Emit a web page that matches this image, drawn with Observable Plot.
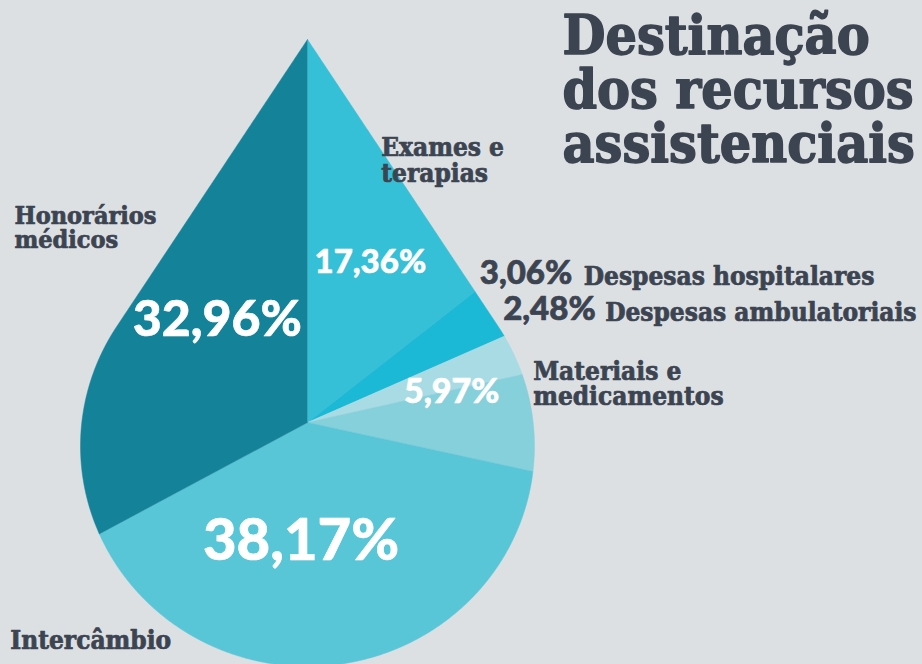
<!DOCTYPE html>
<html><head><meta charset="utf-8">
<script src="https://cdn.jsdelivr.net/npm/d3@7"></script>
<script src="https://cdn.jsdelivr.net/npm/@observablehq/plot@0.6"></script>
<style>
html,body{margin:0;padding:0;background:#dde0e3;}
#chart{width:922px;height:664px;overflow:hidden;}
</style></head><body><div id="chart"></div>
<script>
// ---- data ----
const categories = ["Exames e terapias","Despesas hospitalares","Despesas ambulatoriais","Materiais e medicamentos","Intercâmbio","Honorários médicos"];
const shares = [17.36, 3.06, 2.48, 5.97, 38.17, 32.96];
const shareLabels = ["17,36%","3,06%","2,48%","5,97%","38,17%","32,96%"];
const labelLines = ["Exames e\nterapias","Despesas hospitalares","Despesas ambulatoriais","Materiais e\nmedicamentos","Intercâmbio","Honorários\nmédicos"];
const titleLines = ["Destinação","dos recursos","assistenciais"];
const sliceColors = ["#35c0d7","#1bb9d5","#a8dbe4","#86d0dc","#59c6d8","#14839a"];

// ---- drop geometry (layout constants) ----
const W = 922, H = 664;
const cx = 307, cy = 422;            // pie centre inside the frame
const R = 227, RB = 220.5, ELLY = -23.5, TIP = 383;
const cross = (a, b) => a[0]*b[1] - a[1]*b[0];
const ellipse = d3.range(720).map(i => { const p = 2*Math.PI*i/720; return [R*Math.cos(p), ELLY + RB*Math.sin(p)]; });
const hull = d3.polygonHull([...ellipse, [0, TIP]]);
function radiusAt(theta) {
  const d = [Math.sin(theta), Math.cos(theta)];
  let best = Infinity;
  for (let i = 0; i < hull.length; i++) {
    const p = hull[i], q = hull[(i+1) % hull.length];
    const e = [q[0]-p[0], q[1]-p[1]];
    const den = cross(d, e);
    if (Math.abs(den) < 1e-12) continue;
    const t = cross(p, e)/den, u = cross(p, d)/den;
    if (u >= -1e-9 && u <= 1 + 1e-9 && t > 0 && t < best) best = t;
  }
  return best;
}
// area-proportional slicing of the drop
const NA = 3600, dA = 2*Math.PI/NA;
const cumArea = [0];
for (let i = 0; i < NA; i++) { const r = radiusAt((i+0.5)*dA); cumArea.push(cumArea[i] + 0.5*r*r*dA); }
const totalArea = cumArea[NA];
function angleAt(f) {
  if (f <= 0) return 0; if (f >= 1) return 2*Math.PI;
  const target = f*totalArea;
  const i = Math.max(1, d3.bisectLeft(cumArea, target));
  const t = (target - cumArea[i-1])/(cumArea[i] - cumArea[i-1]);
  return (i - 1 + t)*dA;
}
const total = d3.sum(shares);
let acc = 0;
const rows = [];
const slices = categories.map((cat, i) => {
  const a0 = angleAt(acc/total); acc += shares[i]; const a1 = angleAt(acc/total);
  const n = Math.max(2, Math.ceil((a1 - a0)/(0.2*Math.PI/180)));
  const poly = [[0, 0]];
  for (let j = 0; j <= n; j++) {
    const th = a0 + (a1 - a0)*j/n, r = radiusAt(th);
    poly.push([r*Math.sin(th), r*Math.cos(th)]);
  }
  poly.forEach(p => rows.push({cat, x: p[0], y: p[1]}));
  const c = d3.polygonCentroid(poly);
  const mid = (a0 + a1)/2, rm = radiusAt(mid);
  return {cat, pct: shareLabels[i], label: labelLines[i], cx: c[0], cy: c[1], ex: rm*Math.sin(mid), ey: rm*Math.cos(mid)};
});

const slab = "'DejaVu Serif Condensed', 'DejaVu Serif', serif";
const sans = "Lato, 'Open Sans', sans-serif";
const ink = "#3c4451";
const S = i => [slices[i]];

const inner = (i, size, dx, dy) => Plot.text(S(i), {x: "cx", y: "cy", text: "pct", fill: "white", stroke: "white", strokeWidth: 0.6, fontFamily: sans, fontWeight: 900, fontSize: size, dx, dy});
const outer = (i, field, font, weight, size, dx, dy) => Plot.text(S(i), {x: "ex", y: "ey", text: field, fill: ink, stroke: ink, strokeWidth: 0.7, fontFamily: font, fontWeight: weight, fontSize: size, textAnchor: "start", lineAnchor: "top", lineHeight: 0.97, dx, dy});

const chart = Plot.plot({
  width: W, height: H, margin: 0,
  x: {domain: [-cx, W - cx], axis: null},
  y: {domain: [cy - H, cy], axis: null},
  color: {domain: categories, range: sliceColors},
  style: {background: "#dde0e3"},
  marks: [
    Plot.line(rows, {x: "x", y: "y", z: "cat", fill: "cat", stroke: "cat", strokeWidth: 0.5, curve: "linear"}),
    inner(0, 33, 7, 11),
    inner(3, 34, -5, -31),
    inner(4, 58, -22, -5),
    inner(5, 50, 6, -9),
    outer(0, "label", slab, 700, 26, -34, -63),
    outer(1, "pct", sans, 900, 33, -10, -52),
    outer(1, "label", slab, 700, 26, 94, -47),
    outer(2, "pct", sans, 900, 33, -11, -58),
    outer(2, "label", slab, 700, 26, 91, -52),
    outer(3, "label", slab, 700, 26, 0, -60),
    outer(4, "label", slab, 700, 26, -331, -33),
    outer(5, "label", slab, 700, 25, -111, -107),
    Plot.text([titleLines.join("\n")], {frameAnchor: "top-left", dx: 562, dy: 15, text: d => d, fill: ink, stroke: ink, strokeWidth: 1.4, fontFamily: slab, fontWeight: 700, fontSize: 55, textAnchor: "start", lineAnchor: "top", lineHeight: 0.98})
  ]
});
document.getElementById("chart").appendChild(chart);
</script></body></html>
